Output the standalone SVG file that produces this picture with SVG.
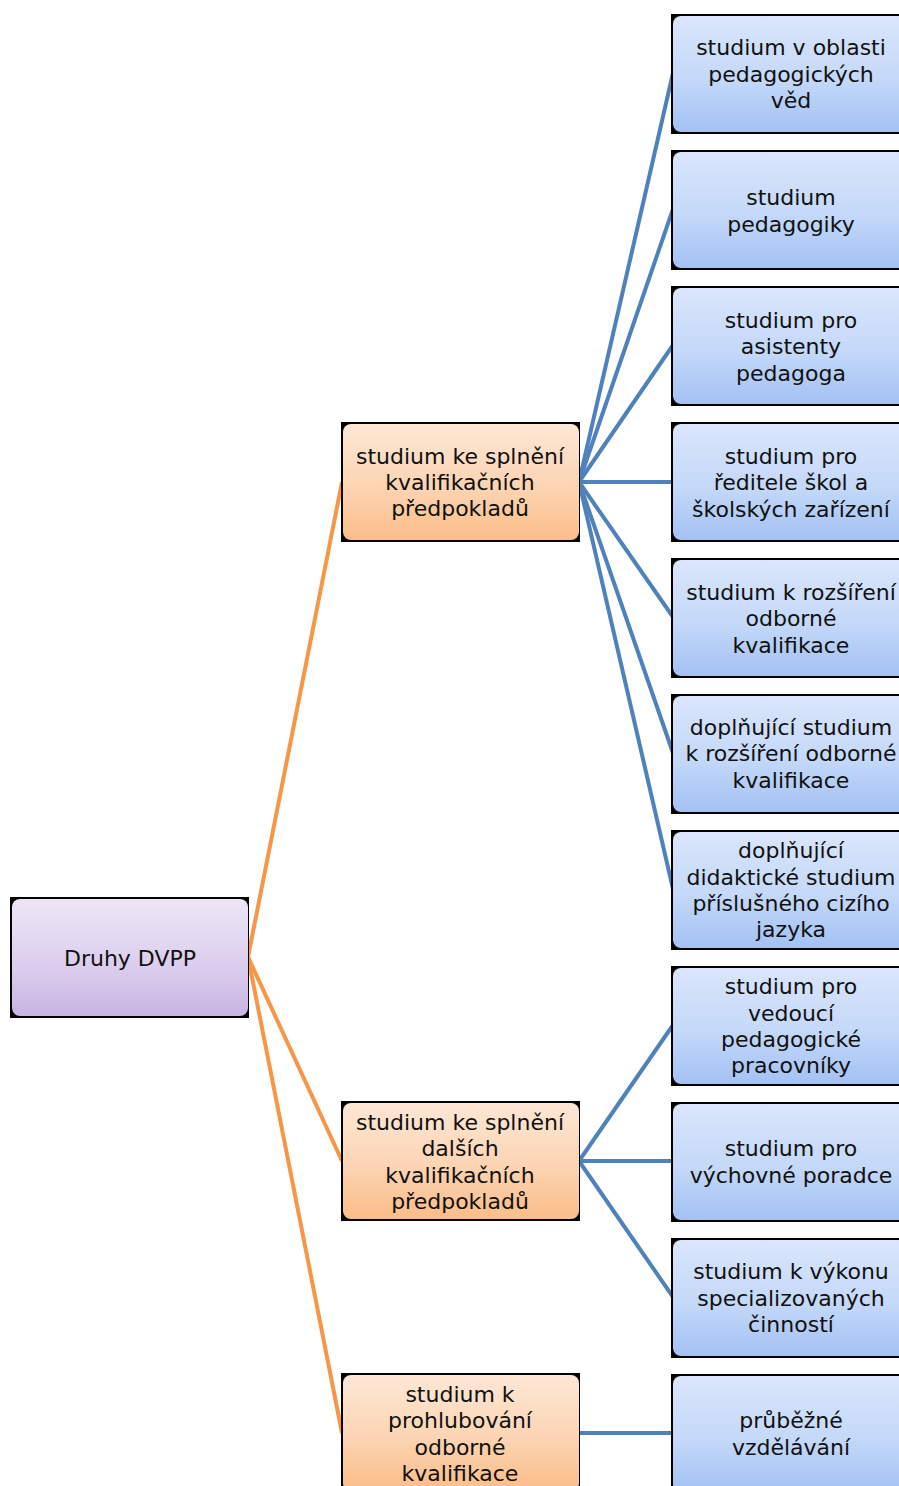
<svg xmlns="http://www.w3.org/2000/svg" width="899" height="1486" viewBox="0 0 899 1486">
<defs>
<linearGradient id="gB" x1="0" y1="0" x2="0" y2="1"><stop offset="0" stop-color="#dae6fb"/><stop offset="0.55" stop-color="#c4d8f8"/><stop offset="1" stop-color="#a3c1f4"/></linearGradient>
<linearGradient id="gO" x1="0" y1="0" x2="0" y2="1"><stop offset="0" stop-color="#fde7d6"/><stop offset="0.55" stop-color="#fcd4b2"/><stop offset="1" stop-color="#fbbd88"/></linearGradient>
<linearGradient id="gP" x1="0" y1="0" x2="0" y2="1"><stop offset="0" stop-color="#ede6f6"/><stop offset="0.55" stop-color="#dccfee"/><stop offset="1" stop-color="#c7b4e2"/></linearGradient>
</defs>
<style>
.sh{fill:#000}
.b{fill:url(#gB)}
.o{fill:url(#gO)}
.p{fill:url(#gP)}
text{font-family:"DejaVu Sans",sans-serif;font-size:22px;fill:#111;text-anchor:middle}
.co{stroke:#f79646;stroke-width:4;fill:none}
.cb{stroke:#4f81bd;stroke-width:4;fill:none}
</style>
<g id="connectors">
<line class="co" x1="248" y1="957" x2="342" y2="482"/>
<line class="co" x1="248" y1="957" x2="342" y2="1161"/>
<line class="co" x1="248" y1="957" x2="342" y2="1433"/>
<line class="cb" x1="579" y1="482" x2="673" y2="73"/>
<line class="cb" x1="579" y1="482" x2="673" y2="209"/>
<line class="cb" x1="579" y1="482" x2="673" y2="345"/>
<line class="cb" x1="579" y1="482" x2="673" y2="482"/>
<line class="cb" x1="579" y1="482" x2="673" y2="617"/>
<line class="cb" x1="579" y1="482" x2="673" y2="753"/>
<line class="cb" x1="579" y1="482" x2="673" y2="889"/>
<line class="cb" x1="579" y1="1161" x2="673" y2="1025"/>
<line class="cb" x1="579" y1="1161" x2="673" y2="1161"/>
<line class="cb" x1="579" y1="1161" x2="673" y2="1297"/>
<line class="cb" x1="579" y1="1433" x2="673" y2="1433"/>
</g>
<g id="root">
<rect class="sh" x="10" y="897" width="239" height="121"/>
<rect class="p" x="12" y="899" width="236" height="117" rx="8"/>
<text x="130" y="966">Druhy DVPP</text>
</g>
<g id="o1">
<rect class="sh" x="341" y="422" width="239" height="120"/>
<rect class="o" x="343" y="424" width="236" height="116" rx="8"/>
<text x="460" y="464">studium ke splnění</text>
<text x="460" y="490">kvalifikačních</text>
<text x="460" y="516">předpokladů</text>
</g>
<g id="o2">
<rect class="sh" x="341" y="1101" width="239" height="120"/>
<rect class="o" x="343" y="1103" width="236" height="116" rx="8"/>
<text x="460" y="1130">studium ke splnění</text>
<text x="460" y="1156">dalších</text>
<text x="460" y="1183">kvalifikačních</text>
<text x="460" y="1209">předpokladů</text>
</g>
<g id="o3">
<rect class="sh" x="341" y="1373" width="239" height="120"/>
<rect class="o" x="343" y="1375" width="236" height="116" rx="8"/>
<text x="460" y="1402">studium k</text>
<text x="460" y="1428">prohlubování</text>
<text x="460" y="1455">odborné</text>
<text x="460" y="1481">kvalifikace</text>
</g>
<g id="b1">
<rect class="sh" x="671" y="14" width="240" height="120"/>
<rect class="b" x="673" y="16" width="240" height="116" rx="8"/>
<text x="791" y="55">studium v oblasti</text>
<text x="791" y="82">pedagogických</text>
<text x="791" y="108">věd</text>
</g>
<g id="b2">
<rect class="sh" x="671" y="150" width="240" height="120"/>
<rect class="b" x="673" y="152" width="240" height="116" rx="8"/>
<text x="791" y="205">studium</text>
<text x="791" y="232">pedagogiky</text>
</g>
<g id="b3">
<rect class="sh" x="671" y="286" width="240" height="120"/>
<rect class="b" x="673" y="288" width="240" height="116" rx="8"/>
<text x="791" y="328">studium pro</text>
<text x="791" y="354">asistenty</text>
<text x="791" y="381">pedagoga</text>
</g>
<g id="b4">
<rect class="sh" x="671" y="422" width="240" height="120"/>
<rect class="b" x="673" y="424" width="240" height="116" rx="8"/>
<text x="791" y="464">studium pro</text>
<text x="791" y="490">ředitele škol a</text>
<text x="791" y="517">školských zařízení</text>
</g>
<g id="b5">
<rect class="sh" x="671" y="558" width="240" height="120"/>
<rect class="b" x="673" y="560" width="240" height="116" rx="8"/>
<text x="791" y="600">studium k rozšíření</text>
<text x="791" y="626">odborné</text>
<text x="791" y="653">kvalifikace</text>
</g>
<g id="b6">
<rect class="sh" x="671" y="694" width="240" height="120"/>
<rect class="b" x="673" y="696" width="240" height="116" rx="8"/>
<text x="791" y="735">doplňující studium</text>
<text x="791" y="761">k rozšíření odborné</text>
<text x="791" y="788">kvalifikace</text>
</g>
<g id="b7">
<rect class="sh" x="671" y="830" width="240" height="120"/>
<rect class="b" x="673" y="832" width="240" height="116" rx="8"/>
<text x="791" y="858">doplňující</text>
<text x="791" y="885">didaktické studium</text>
<text x="791" y="911">příslušného cizího</text>
<text x="791" y="937">jazyka</text>
</g>
<g id="b8">
<rect class="sh" x="671" y="966" width="240" height="120"/>
<rect class="b" x="673" y="968" width="240" height="116" rx="8"/>
<text x="791" y="994">studium pro</text>
<text x="791" y="1021">vedoucí</text>
<text x="791" y="1047">pedagogické</text>
<text x="791" y="1073">pracovníky</text>
</g>
<g id="b9">
<rect class="sh" x="671" y="1102" width="240" height="120"/>
<rect class="b" x="673" y="1104" width="240" height="116" rx="8"/>
<text x="791" y="1156">studium pro</text>
<text x="791" y="1183">výchovné poradce</text>
</g>
<g id="b10">
<rect class="sh" x="671" y="1238" width="240" height="120"/>
<rect class="b" x="673" y="1240" width="240" height="116" rx="8"/>
<text x="791" y="1279">studium k výkonu</text>
<text x="791" y="1306">specializovaných</text>
<text x="791" y="1332">činností</text>
</g>
<g id="b11">
<rect class="sh" x="671" y="1374" width="240" height="120"/>
<rect class="b" x="673" y="1376" width="240" height="116" rx="8"/>
<text x="791" y="1428">průběžné</text>
<text x="791" y="1455">vzdělávání</text>
</g>
</svg>
